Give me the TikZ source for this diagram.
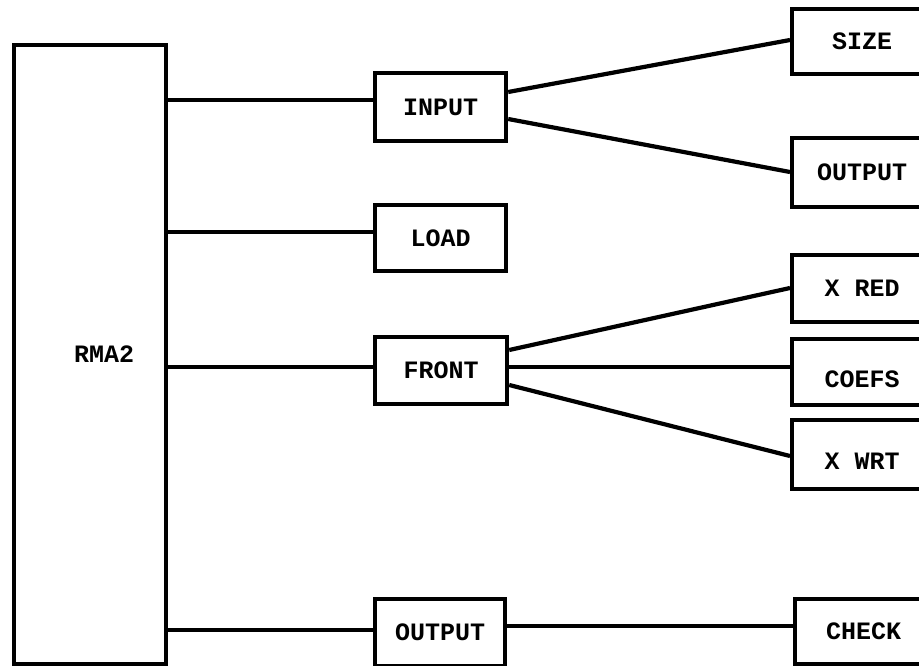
\documentclass[tikz,border=0pt]{standalone}
\usepackage{fontspec}
\setmonofont{Liberation Mono}
\begin{document}
\begin{tikzpicture}[x=1pt,y=-1pt,
  box/.style={draw, line width=4.2pt, inner sep=0pt, anchor=north west,
    font=\ttfamily\bfseries\fontsize{25}{25}\selectfont},
  low/.style={text height=30pt, text depth=0pt},
  wire/.style={line width=4.2pt}]
\useasboundingbox (0,0) rectangle (919,666);
\clip (0,0) rectangle (919,666);
% left column
\node[box, minimum width=152pt, minimum height=619pt] (rma) at (12,43) {\hspace*{28pt}RMA2};
% middle column
\node[box, minimum width=131pt, minimum height=68pt] (inp) at (373,71) {INPUT};
\node[box, minimum width=131pt, minimum height=66pt] (load) at (373,203) {LOAD};
\node[box, minimum width=132pt, minimum height=67pt] (front) at (373,335) {FRONT};
\node[box, minimum width=130pt, minimum height=67pt] (out) at (373,597) {OUTPUT};
% right column (extends past the right edge)
\node[box, minimum width=140pt, minimum height=65pt] (size) at (790,7) {SIZE};
\node[box, minimum width=140pt, minimum height=69pt] (outb) at (790,136) {OUTPUT};
\node[box, minimum width=140pt, minimum height=67pt] (xred) at (790,253) {X RED};
\node[box, low, minimum width=140pt, minimum height=66pt] (coefs) at (790,337) {COEFS};
\node[box, low, minimum width=140pt, minimum height=69pt] (xwrt) at (790,418) {X WRT};
\node[box, minimum width=137pt, minimum height=65pt] (check) at (793,597) {CHECK};
% connectors from RMA2
\draw[wire] (rma.east |- 0,100) -- (inp.west |- 0,100);
\draw[wire] (rma.east |- 0,232) -- (load.west |- 0,232);
\draw[wire] (rma.east |- 0,367) -- (front.west |- 0,367);
\draw[wire] (rma.east |- 0,630) -- (out.west |- 0,630);
% fan-outs
\draw[wire] (inp.east |- 0,92) -- (size.west |- 0,40);
\draw[wire] (inp.east |- 0,119) -- (outb.west |- 0,172);
\draw[wire] (front.east |- 0,350) -- (xred.west |- 0,288);
\draw[wire] (front.east |- 0,367) -- (coefs.west |- 0,367);
\draw[wire] (front.east |- 0,385) -- (xwrt.west |- 0,456);
\draw[wire] (out.east |- 0,626) -- (check.west |- 0,626);
\end{tikzpicture}
\end{document}
